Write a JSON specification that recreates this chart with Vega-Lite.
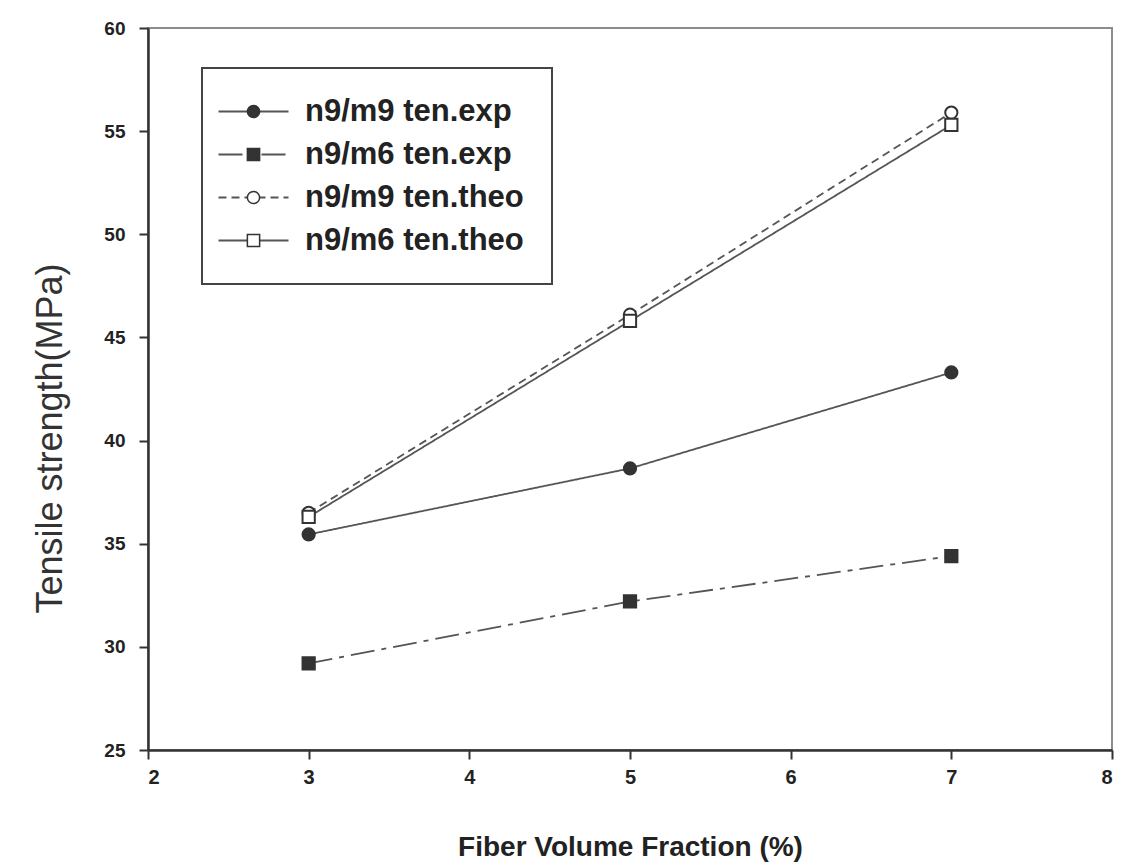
{
  "$schema": "https://vega.github.io/schema/vega-lite/v6.json",
  "width": 964,
  "height": 722,
  "autosize": {"type": "none"},
  "padding": {"left": 148, "top": 28, "right": 19, "bottom": 115},
  "background": "white",
  "config": {
    "view": {"stroke": "#8c8c8c", "strokeWidth": 2},
    "font": "Liberation Sans",
    "legend": {"strokeWidth": 2}
  },
  "data": {
    "values": [
      {"fraction": 3, "strength": 35.45, "series": "n9/m9 ten.exp", "order": 1},
      {"fraction": 5, "strength": 38.65, "series": "n9/m9 ten.exp", "order": 1},
      {"fraction": 7, "strength": 43.3, "series": "n9/m9 ten.exp", "order": 1},
      {"fraction": 3, "strength": 29.2, "series": "n9/m6 ten.exp", "order": 2},
      {"fraction": 5, "strength": 32.2, "series": "n9/m6 ten.exp", "order": 2},
      {"fraction": 7, "strength": 34.4, "series": "n9/m6 ten.exp", "order": 2},
      {"fraction": 3, "strength": 36.5, "series": "n9/m9 ten.theo", "order": 3},
      {"fraction": 5, "strength": 46.1, "series": "n9/m9 ten.theo", "order": 3},
      {"fraction": 7, "strength": 55.9, "series": "n9/m9 ten.theo", "order": 3},
      {"fraction": 3, "strength": 36.3, "series": "n9/m6 ten.theo", "order": 4},
      {"fraction": 5, "strength": 45.8, "series": "n9/m6 ten.theo", "order": 4},
      {"fraction": 7, "strength": 55.3, "series": "n9/m6 ten.theo", "order": 4}
    ]
  },
  "encoding": {
    "x": {
      "field": "fraction",
      "type": "quantitative",
      "scale": {"domain": [2, 8], "nice": false, "zero": false},
      "axis": {
        "title": "Fiber Volume Fraction (%)",
        "values": [2, 3, 4, 5, 6, 7, 8],
        "grid": false,
        "domainColor": "#333",
        "domainWidth": 2.5,
        "tickColor": "#333",
        "tickWidth": 2,
        "tickSize": 9,
        "labelFont": "Liberation Sans",
        "labelFontSize": 20,
        "labelFontWeight": "bold",
        "labelColor": "#222",
        "labelPadding": 8,
        "titleFont": "Liberation Sans",
        "titleFontSize": 28,
        "titleFontWeight": "bold",
        "titleColor": "#222",
        "titlePadding": 46
      }
    },
    "y": {
      "field": "strength",
      "type": "quantitative",
      "scale": {"domain": [25, 60], "nice": false, "zero": false},
      "axis": {
        "title": "Tensile strength(MPa)",
        "values": [25, 30, 35, 40, 45, 50, 55, 60],
        "grid": false,
        "domainColor": "#333",
        "domainWidth": 2.5,
        "tickColor": "#333",
        "tickWidth": 2,
        "tickSize": 9,
        "labelFont": "Liberation Sans",
        "labelFontSize": 19,
        "labelFontWeight": "bold",
        "labelColor": "#222",
        "labelPadding": 14,
        "titleFont": "Liberation Sans",
        "titleFontSize": 36,
        "titleFontWeight": "normal",
        "titleColor": "#333",
        "titleAngle": -90,
        "titleAlign": "center",
        "titleBaseline": "middle",
        "titleX": -98,
        "titleY": 410
      }
    }
  },
  "layer": [
    {
      "mark": {"type": "line", "color": "#555", "strokeWidth": 1.8},
      "encoding": {
        "strokeDash": {
          "field": "series",
          "type": "nominal",
          "scale": {
            "domain": ["n9/m9 ten.exp", "n9/m6 ten.exp", "n9/m9 ten.theo", "n9/m6 ten.theo"],
            "range": [[1, 0], [24, 7, 5, 7], [8, 5], [1, 0]]
          },
          "legend": {
            "orient": "none",
            "legendX": 54,
            "legendY": 40,
            "title": null,
            "strokeColor": "#444",
            "padding": 28,
            "symbolType": "M-2.8,0H2.8",
            "symbolSize": 625,
            "symbolOffset": 8,
            "symbolStrokeColor": "#555",
            "symbolStrokeWidth": 1.8,
            "labelFont": "Liberation Sans",
            "labelFontSize": 31,
            "labelFontWeight": "bold",
            "labelColor": "#222",
            "labelLimit": 500,
            "labelOffset": 36,
            "rowPadding": 11
          }
        }
      }
    },
    {
      "mark": {"type": "point", "size": 150, "stroke": "#333", "strokeWidth": 2, "opacity": 1},
      "encoding": {
        "shape": {
          "field": "series",
          "type": "nominal",
          "sort": {"field": "order", "op": "min"},
          "scale": {"range": ["circle", "square", "circle", "square"]},
          "legend": {
            "orient": "none",
            "legendX": 54,
            "legendY": 40,
            "title": null,
            "padding": 28,
            "symbolSize": 150,
            "symbolOffset": 8,
            "labelFont": "Liberation Sans",
            "labelFontSize": 31,
            "labelFontWeight": "bold",
            "labelExpr": "''",
            "rowPadding": 11,
            "encode": {
              "symbols": {
                "update": {
                  "stroke": {"value": "#333"},
                  "strokeWidth": {"value": 2},
                  "opacity": {"value": 1}
                }
              }
            }
          }
        },
        "fill": {
          "field": "series",
          "type": "nominal",
          "sort": {"field": "order", "op": "min"},
          "scale": {"range": ["#333", "#333", "#ffffff", "#ffffff"]}
        }
      }
    }
  ]
}
